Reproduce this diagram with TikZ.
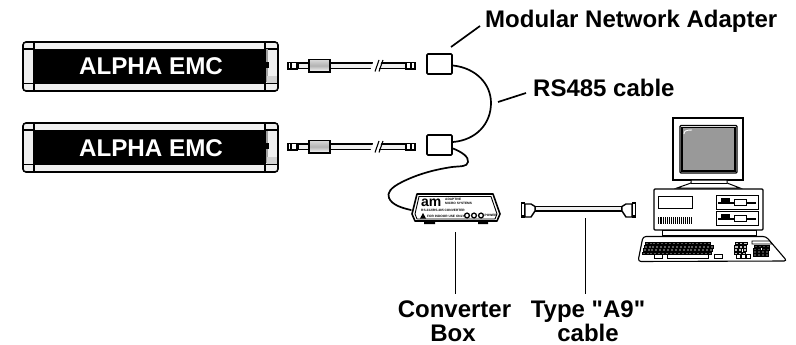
\documentclass[tikz,border=0pt]{standalone}
\usepackage{fontspec}
\setmainfont{Liberation Sans}
\newfontfamily\labelfont{Liberation Sans}
\usetikzlibrary{calc}
\definecolor{panel}{gray}{0.94}
\definecolor{screen}{gray}{0.6}
\tikzset{
  caplabel/.style={font=\labelfont\bfseries\fontsize{24}{26}\selectfont,inner sep=0pt,anchor=base,align=center},
  signtext/.style={font=\bfseries\fontsize{24.2}{26}\selectfont,text=white,inner sep=0pt,anchor=base},
  tiny/.style={font=\bfseries\fontsize{3.2}{3.6}\selectfont,inner sep=0pt,anchor=west},
  leader/.style={draw=black,line width=1.7pt},
  cordline/.style={draw=black,line width=1.7pt,line cap=round},
  keyrow/.style={draw=black,line width=.6pt},
}
\begin{document}
\begin{tikzpicture}[x=1pt,y=-1pt]
\useasboundingbox (0,0) rectangle (796,345);
% ---- signs and their cables
\foreach \n/\dy in {1/0,2/81}{
\begin{scope}[shift={(0,\dy)}]
  \node[draw=black,line width=1.6pt,fill=panel,rounded corners=3pt,minimum width=255pt,minimum height=49pt,inner sep=0pt] (sign\n) at (150.5,66.5) {};
  \fill[black] (34,49) rectangle (265,84);
  \draw[line width=1.3pt] (34,42) -- (34,91) (265,42) -- (265,91);
  \draw[line width=1.3pt] (23,49) -- (34,49) (23,83.5) -- (34,83.5) (265,49) -- (278,49) (265,83.5) -- (278,83.5);
  \fill[gray!75] (265.5,49.5) rectangle (267.5,82);
  \fill[black] (265.5,62) rectangle (268.5,68);
  \fill[gray!35] (267,76) rectangle (277,83);
  \node[signtext] (signlabel\n) at (151,75) {ALPHA EMC};
  % cable
  \draw[line width=1.1pt,fill=panel] (298,63) rectangle (406,68.5);
  \fill[white] (374,60) -- (382,60) -- (378,71) -- (370,71) -- cycle;
  \draw[line width=1.1pt] (379,60) -- (375,71.5) (383,60) -- (379,71.5);
  \draw[line width=1.5pt,fill=white] (288,62.5) rectangle (291,69);
  \draw[line width=1.5pt,fill=white] (291,62.5) rectangle (297,69);
  \draw[line width=1.5pt,fill=white] (406,62.5) rectangle (411,69);
  \draw[line width=1.5pt,fill=white] (411,62.5) rectangle (415,69);
  \shade[top color=gray!30,bottom color=white,middle color=gray!60,draw=black,line width=1.1pt] (309,59.5) rectangle (330,72);
  % adapter
  \node[draw=black,line width=1.6pt,fill=white,rounded corners=1pt,minimum width=25pt,minimum height=20pt,inner sep=0pt] (adapter\n) at (439.5,64) {};
  \draw[line width=1.8pt] (426.5,59) -- (426.5,68);
\end{scope}}
\coordinate (a1out) at (453,65.5);
\coordinate (a2out) at (453,142);
\coordinate (a2low) at (453,148.5);
\coordinate (boxin) at (411,210);
% RS485 cable
\draw[cordline] (a1out) .. controls (476,68) and (491,84) .. (491,103) .. controls (491,124) and (476,140) .. (a2out);
% cord to converter
\draw[cordline] (a2low) .. controls (462,152) and (469,157) .. (468,162) .. controls (467,167) and (461,166) .. (452,167) .. controls (432,170) and (416,175) .. (402,182) .. controls (390,188) and (387,193) .. (389,198) .. controls (392,205) and (402,208) .. (boxin);
% ---- converter box
\coordinate (c1) at (417,194);
\coordinate (c2) at (493,194);
\coordinate (c3) at (500,214);
\coordinate (c4) at (497,221);
\coordinate (c5) at (415,221);
\coordinate (c6) at (412,214);
\fill[black] (424,220) rectangle (435,224) (478,220) rectangle (488,224);
\draw[line width=1.6pt,fill=white,line join=round] (c1) -- (c2) -- (c3) -- (c4) -- (c5) -- (c6) -- cycle;
\draw[line width=.9pt] (419,196.5) -- (491,196.5) -- (497,214) -- (495,219) -- (417,219) -- (415,214) -- cycle;
\node[inner sep=0pt,anchor=base west,font=\bfseries\fontsize{14}{14}\selectfont] (logo) at (421,206.5) {am};
\node[tiny] (maker) at (445,199) {ADAPTIVE};
\node[tiny] (makerb) at (445,203) {MICRO SYSTEMS};
\node[tiny] (model) at (421,210.5) {RS-232/RS-485 CONVERTER};
\fill[black] (420,218.5) -- (426,218.5) -- (423,213) -- cycle;
\node[tiny] (warn) at (427,216) {FOR INDOOR USE ONLY};
\foreach \x in {467,474,481}{\draw[line width=1.3pt,fill=white] (\x,215.5) circle (2.4pt);}
\node[tiny] (pwr) at (484.5,215.5) {POWER};
% ---- A9 cable
\draw[line width=1.1pt,fill=panel] (535,206.5) rectangle (622,211);
\draw[line width=1.4pt,fill=white] (525,204) -- (531,204) -- (535,206.5) -- (535,211) -- (531,217) -- (525,217) -- cycle;
\fill[black] (520.5,201.5) rectangle (525,218);
\fill[white] (522,204) rectangle (523.5,215);
\draw[line width=1.4pt,fill=white] (632,204) -- (626,204) -- (622,206.5) -- (622,211) -- (626,217) -- (632,217) -- cycle;
\fill[black] (632,201.5) rectangle (636,218);
\fill[white] (633,204) rectangle (634.5,215);
% ---- computer
\node[draw=black,line width=1.1pt,fill=white,minimum width=70pt,minimum height=62pt,inner sep=0pt] (monitor) at (708,149) {};
\draw[line width=1.1pt,rounded corners=1pt] (680,125.5) rectangle (737,173);
\draw[line width=1.1pt,fill=screen] (682,127.5) rectangle (735,171);
\draw[white,line width=.9pt] (684,134) .. controls (684,131) and (686,130) .. (692,130);
\draw[line width=1pt,fill=white] (691,180) -- (691,183) -- (677,188) -- (740,188) -- (727,183) -- (727,180) -- cycle;
\draw[line width=1pt] (691,183) -- (727,183);
\node[draw=black,line width=1.1pt,fill=white,rounded corners=1pt,minimum width=109pt,minimum height=41pt,inner sep=0pt] (desktop) at (708.5,209.5) {};
\draw[line width=1pt,fill=white] (662,230) rectangle (756,235);
\draw[line width=1pt] (658.5,196.5) rectangle (692.5,208);
\foreach \i in {0,...,17}{\draw[line width=.9pt] ({658+\i*1.95},217) -- ({658+\i*1.95},223.5);}
\foreach \dy in {0,16}{
  \draw[line width=.9pt,fill=white] (716.5,\dy+195.5) rectangle (758,\dy+209);
  \fill[black] (721,\dy+198) rectangle (730,\dy+202.5);
  \fill[black] (718,\dy+201.5) rectangle (756,\dy+203.5);
  \draw[line width=.9pt,fill=white] (734,\dy+199) rectangle (746,\dy+205);
}
% keyboard
\draw[line width=1.1pt,fill=white,rounded corners=3pt] (643,236.5) -- (766,236.5) -- (787,261) -- (638,261.5) -- cycle;
\draw[line width=.8pt] (752,241) -- (770,241) -- (772,244) -- (752,244) -- cycle;
\foreach \r/\ofs/\n in {0/644/17,1/643/18,2/642/18,3/641/18}{
  \foreach \i in {1,...,\n}{
    \draw[keyrow,fill=black!65] ({\ofs+\i*3.9-3},{242+\r*3.3}) rectangle ++(3,2.5);
  }
}
\foreach \r in {0,...,3}{\foreach \i in {0,1,2}{\draw[keyrow,fill=black!25] ({735+\i*4.3-\r*.4},{242+\r*3.3}) rectangle ++(3.2,2.5);}}
\foreach \r in {1,...,4}{\foreach \i in {0,...,3}{\draw[keyrow,fill=black!75] ({754+\i*4.1-\r*.2},{242+\r*2.9}) rectangle ++(3,2.2);}}
\draw[line width=.9pt,fill=white] (667,254.5) rectangle (708,258);
\draw[line width=.9pt,fill=white] (654,254) rectangle (662,258);
\draw[line width=.9pt,fill=white] (714,254) rectangle (722,258);
\foreach \i in {0,1,2}{\draw[line width=.7pt,fill=white] ({736+\i*5},254.5) rectangle ++(4,3.5);}
% ---- labels
\node[caplabel,anchor=base west] (mna) at (485,28) {Modular Network Adapter};
\node[caplabel,anchor=base west] (rs) at (533,96) {RS485 cable};
\node[caplabel] (cvt) at (454.5,317) {Converter};
\node[caplabel] (cvtb) at (453,341) {Box};
\node[caplabel] (typ) at (588,317) {Type "A9"};
\node[caplabel] (typc) at (588,341) {cable};
% ---- leaders
\coordinate (l1a) at (451,47);
\coordinate (l1b) at (480,26);
\coordinate (l2a) at (498,102);
\coordinate (l2b) at (526,93);
\coordinate (l3a) at (455.5,232);
\coordinate (l3b) at (455.5,294);
\coordinate (l4a) at (585.5,218);
\coordinate (l4b) at (585.5,294);
\draw[leader] (l1a) -- (l1b);
\draw[leader] (l2a) -- (l2b);
\draw[leader] (l3a) -- (l3b);
\draw[leader] (l4a) -- (l4b);
\end{tikzpicture}
\end{document}
